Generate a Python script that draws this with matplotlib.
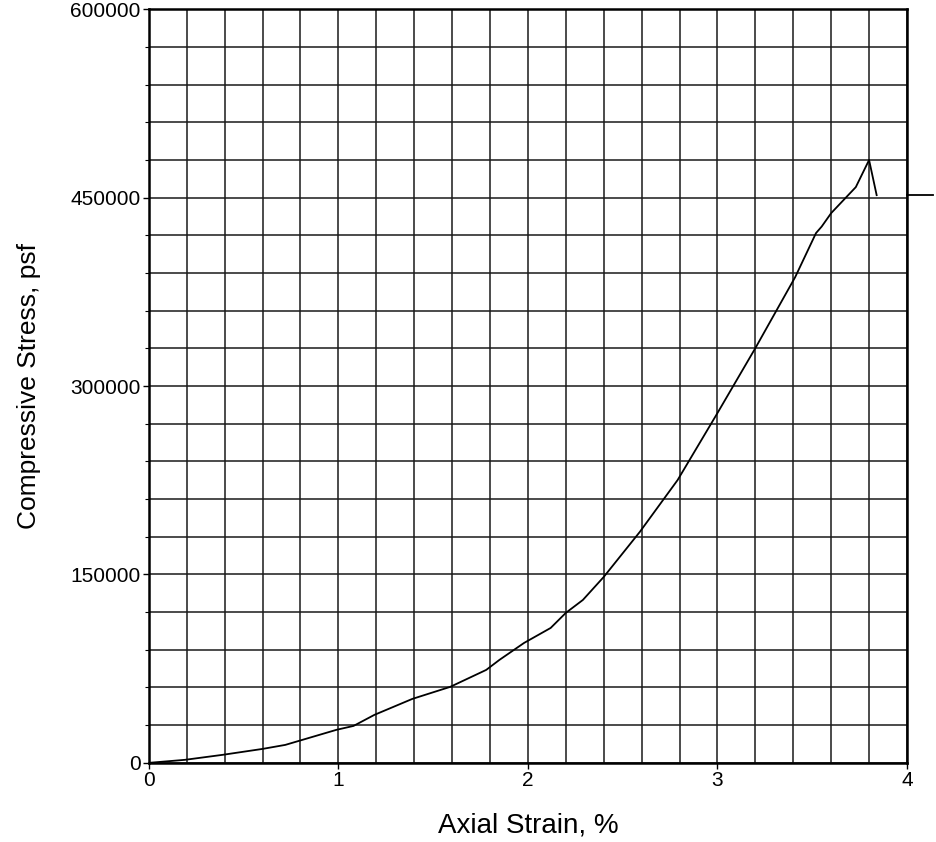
import numpy as np
import matplotlib.pyplot as plt
import matplotlib.transforms as mtransforms

plt.rcParams['font.family'] = ['Liberation Sans', 'DejaVu Sans']

# stress-strain curve
strain = [0, 0.19, 0.39, 0.6, 0.72, 0.99, 1.08, 1.19, 1.39, 1.59, 1.78, 1.85,
          1.98, 2.12, 2.2, 2.29, 2.40, 2.59, 2.79, 3.0, 3.2, 3.41, 3.52, 3.55,
          3.6, 3.73, 3.8, 3.84]
stress = [0, 2400, 6400, 11100, 14300, 26300, 29400, 38200, 50900, 60500,
          74000, 82000, 95500, 107400, 119400, 129700, 148000, 183800, 225200,
          278500, 330200, 386700, 421800, 427000, 437700, 458400, 480000, 452000]

x_ticks = [0, 1, 2, 3, 4]
y_ticks = [0, 150000, 300000, 450000, 600000]

fig = plt.figure(figsize=(9.36, 8.42), dpi=100)
ax = fig.add_axes([0.159, 0.094, 0.81, 0.895])

ax.set_xlim(0, 4)
ax.set_ylim(0, 600000)

# grid every 0.2 % and every 30000 psf
ax.set_xticks(x_ticks)
ax.set_yticks(y_ticks)
ax.set_xticks(np.arange(0, 4.01, 0.2), minor=True)
ax.set_yticks(np.arange(0, 600001, 30000), minor=True)
ax.grid(which='both', color='#1a1a1a', linewidth=1.1)
ax.set_axisbelow(True)

ax.plot(strain, stress, color='black', linewidth=1.3)

# failure stress mark outside right edge
trans = mtransforms.blended_transform_factory(ax.transAxes, ax.transData)
ax.plot([1.0, 1.034], [stress[-1], stress[-1]], color='black', linewidth=1.3,
        transform=trans, clip_on=False)

ax.tick_params(which='major', length=4, width=1, labelsize=15, colors='black', pad=2)
ax.tick_params(which='minor', length=3, width=0.8)
ax.tick_params(axis='x', which='minor', length=0)
for s in ax.spines.values():
    s.set_linewidth(1.8)
    s.set_color('black')

ax.set_xlabel('Axial Strain, %', fontsize=20, labelpad=16)
ax.set_ylabel('Compressive Stress, psf', fontsize=19, labelpad=21)

fig.savefig('out.png', dpi=100)
